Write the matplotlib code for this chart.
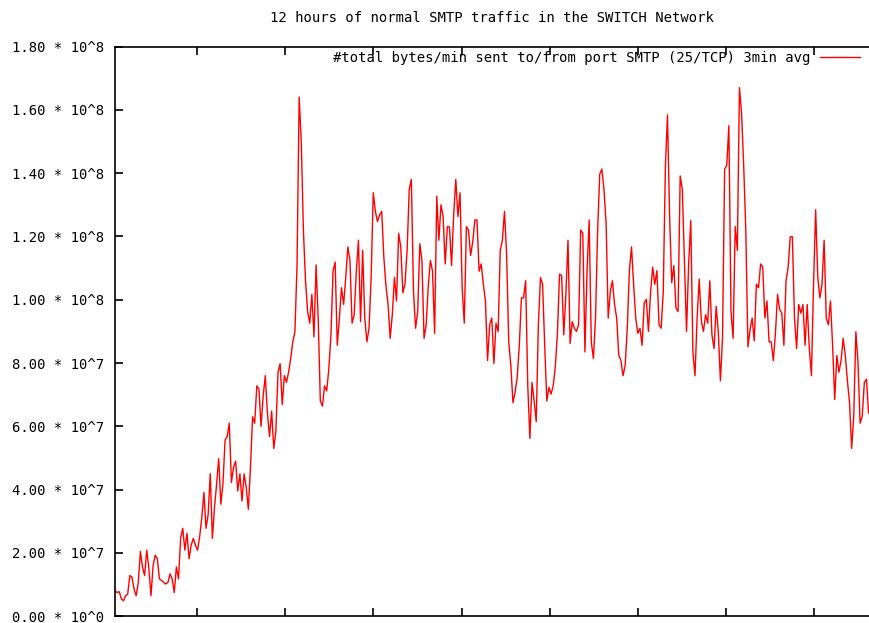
import numpy as np
import matplotlib
matplotlib.use("Agg")
import matplotlib.pyplot as plt

# SMTP traffic, 2-minute samples, in units of 10^6 bytes/min
smtp_mb = [
    8.1, 7.5, 7.8, 5.5, 4.9, 6.5, 7.0, 12.9, 12.4, 8.6,
    6.5, 10.7, 20.5, 15.5, 12.9, 20.9, 15.0, 6.5, 16.1, 19.3,
    18.2, 11.8, 11.3, 10.7, 10.2, 10.7, 13.4, 11.8, 7.5, 15.6,
    11.8, 24.6, 27.8, 20.9, 26.2, 18.2, 22.5, 24.6, 22.5, 20.9,
    25.2, 31.1, 39.1, 27.8, 32.1, 45.0, 24.6, 34.3, 41.8, 49.8,
    35.4, 41.8, 55.7, 56.8, 61.0, 42.3, 47.1, 49.0, 39.6, 45.0,
    36.4, 45.0, 40.7, 33.8, 47.1, 63.0, 61.0, 72.8, 71.7, 60.0,
    69.6, 76.0, 64.2, 56.8, 64.8, 53.0, 58.4, 77.1, 79.8, 66.9,
    76.0, 73.9, 77.1, 81.4, 86.7, 89.9, 111.0, 164.0, 150.0, 122.0,
    106.0, 96.3, 92.6, 101.7, 88.3, 111.0, 94.0, 68.0, 66.4, 72.8,
    71.2, 78.0, 88.5, 109.0, 111.9, 85.6, 94.2, 103.8, 98.5, 107.0,
    116.7, 112.4, 92.6, 95.3, 109.0, 118.8, 93.1, 115.6, 94.2, 86.7,
    91.0, 107.0, 133.8, 127.9, 124.7, 126.8, 127.9, 113.5, 104.4, 98.5,
    87.8, 95.3, 107.0, 99.6, 121.0, 116.7, 102.2, 105.0, 115.6, 134.9,
    138.0, 102.7, 91.0, 96.3, 117.7, 112.4, 87.8, 92.1, 104.4, 112.4,
    109.0, 89.4, 132.7, 118.8, 130.0, 126.3, 111.3, 123.1, 123.0, 110.8,
    126.8, 138.0, 126.3, 133.8, 103.8, 92.6, 123.1, 122.0, 114.0, 118.3,
    125.2, 125.2, 109.0, 111.3, 105.0, 99.6, 80.8, 92.1, 94.2, 79.8,
    92.6, 90.0, 115.6, 118.8, 127.9, 114.5, 86.7, 79.2, 67.5, 70.7,
    75.5, 85.6, 100.6, 100.6, 106.0, 72.8, 56.2, 73.9, 68.0, 61.5,
    92.1, 107.0, 104.9, 85.6, 68.0, 72.3, 70.2, 72.8, 78.7, 89.4,
    108.1, 107.6, 88.9, 101.7, 118.8, 86.2, 93.1, 91.0, 90.0, 92.1,
    122.0, 121.0, 83.5, 109.2, 125.2, 86.7, 81.4, 94.2, 122.0, 139.7,
    141.3, 134.9, 124.2, 94.2, 102.7, 106.0, 98.5, 94.2, 82.4, 80.8,
    76.0, 79.2, 91.0, 109.2, 116.7, 104.9, 94.2, 89.4, 91.0, 85.6,
    99.0, 100.1, 90.0, 102.2, 110.3, 104.9, 109.2, 92.1, 91.0, 102.2,
    141.8, 158.4, 126.3, 105.4, 110.8, 97.4, 96.3, 139.1, 134.9,
    112.4, 90.0, 111.3, 125.0, 83.5, 76.0, 94.2, 106.5, 93.1, 90.0, 95.3,
    92.6, 106.0, 88.9, 84.6, 97.9, 90.0, 74.4, 87.8, 141.3, 142.4,
    155.0, 96.3, 87.8, 123.1, 115.6, 167.0, 159.0, 142.4, 122.0, 85.1,
    90.5, 94.2, 87.0, 104.9, 103.8, 111.3, 110.3, 94.2, 99.6, 86.7,
    86.7, 80.8, 89.4, 101.7, 96.9, 95.8, 85.6, 106.0, 110.3, 119.9,
    119.9, 94.2, 84.6, 98.5, 95.8, 98.5, 85.6, 98.5, 84.6, 76.0,
    104.9, 128.4, 107.0, 100.6, 104.9, 118.8, 94.2, 92.1, 99.6, 85.6,
    68.5, 82.4, 77.1, 80.8, 87.8, 82.4, 74.4, 67.5, 53.0, 63.2,
    89.9, 80.3, 61.0, 63.2, 73.9, 74.9, 64.2,
]

ytick_vals = [0, 2e7, 4e7, 6e7, 8e7, 1e8, 1.2e8, 1.4e8, 1.6e8, 1.8e8]
ytick_labels = ["0.00 * 10^0", "2.00 * 10^7", "4.00 * 10^7", "6.00 * 10^7",
                "8.00 * 10^7", "1.00 * 10^8", "1.20 * 10^8", "1.40 * 10^8",
                "1.60 * 10^8", "1.80 * 10^8"]

minutes = np.arange(len(smtp_mb)) * 2
values = np.array(smtp_mb) * 1e6

plt.rcParams['font.family'] = ['DejaVu Sans Mono']
fig = plt.figure(figsize=(8.69, 6.23), dpi=100)
ax = fig.add_axes([115/869, 6.7/623, 754/869, 569.8/623])

ax.plot(minutes, values, color='#ff0000', lw=1.0,
        label='#total bytes/min sent to/from port SMTP (25/TCP) 3min avg')

ax.set_xlim(0, 712.4)
ax.set_ylim(0, 1.8e8)
# gnuplot put a tick every 5000 s
ax.set_xticks(77.5 + 83.333 * np.arange(8))
ax.set_xticklabels([])
ax.set_yticks(ytick_vals)
ax.set_yticklabels(ytick_labels, fontsize=10)
ax.tick_params(direction='in', length=6, width=1.2, top=True, right=False,
               pad=8, colors='black')
ax.spines['right'].set_visible(False)
for s in ['left', 'top', 'bottom']:
    ax.spines[s].set_linewidth(1.2)

fig.text(492/869, 1 - 18/623, '12 hours of normal SMTP traffic in the SWITCH Network',
         ha='center', va='center', fontsize=10)

ax.legend(loc='upper right', bbox_to_anchor=(0.988, 0.992), frameon=False,
          markerfirst=False, fontsize=10, handlelength=2.9, handletextpad=0.65,
          borderpad=0, borderaxespad=0)

fig.savefig('out.png', dpi=100)
